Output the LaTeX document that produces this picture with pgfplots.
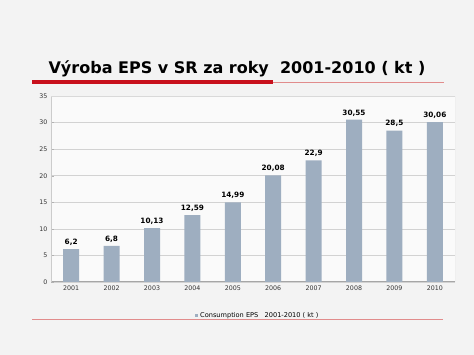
\documentclass[border=0pt]{standalone}
\usepackage{pgfplots}
\pgfplotsset{compat=1.18}
\usepackage{fontspec}
\setmainfont{DejaVu Sans}
\definecolor{barc}{RGB}{158,174,192}
\definecolor{bg}{RGB}{243,243,243}
\definecolor{redA}{RGB}{200,16,28}
\definecolor{redB}{RGB}{225,140,140}
\begin{document}
\begin{tikzpicture}[x=1pt,y=1pt]
\fill[bg] (0,0) rectangle (474,355);
\node[font=\bfseries\fontsize{16}{18}\selectfont, anchor=base] at (237,281) {Výroba EPS v SR za roky\ \ 2001-2010 ( kt )};
\fill[redA] (32,270.5) rectangle (273,274.5);
\draw[redB, line width=0.8pt] (273,273) -- (444,273);
\draw[redB, line width=0.6pt] (32,36) -- (443,36);
\begin{axis}[
  at={(51pt,73pt)}, anchor=south west,
  scale only axis, width=404pt, height=186pt,
  ymin=0, ymax=35, ytick={0,5,...,35},
  xmin=-0.5, xmax=9.5,
  xtick={0,...,9},
  xticklabels={2001,2002,2003,2004,2005,2006,2007,2008,2009,2010},
  ymajorgrids, grid style={gray!35, line width=0.6pt},
  axis line style={gray!40},
  axis x line*=bottom, axis y line*=left,
  x axis line style={gray!70, line width=1pt},
  major tick length=3pt,
  tick style={gray!60},
  xtick style={draw=none},
  tick label style={font=\fontsize{6.3}{7}\selectfont, text=black!80},
  /pgf/number format/assume math mode=true,
  axis background/.style={fill=white!60!bg},
  legend style={at={(0.512,-0.183)}, anchor=center, draw=none, fill=none, font=\fontsize{6.6}{7}\selectfont, legend cell align=left},
  legend image code/.code={\fill[barc] (1pt,-0.5pt) rectangle (4pt,2.5pt);},
]
\draw[gray!30] (rel axis cs:0,1) -- (rel axis cs:1,1) -- (rel axis cs:1,0);
\addplot[ybar, bar width=16pt, fill=barc, draw=none,
  nodes near coords, point meta=explicit symbolic,
  every node near coord/.append style={font=\bfseries\fontsize{7.3}{8}\selectfont, text=black, yshift=0pt}]
  table[meta=lbl] {
x y lbl
0 6.2 6,2
1 6.8 6,8
2 10.13 10,13
3 12.59 12,59
4 14.99 14,99
5 20.08 20,08
6 22.9 22,9
7 30.55 30,55
8 28.5 28,5
9 30.06 30,06
};
\addlegendentry{Consumption EPS\ \ \ 2001-2010 ( kt )}
\end{axis}
\end{tikzpicture}
\end{document}
